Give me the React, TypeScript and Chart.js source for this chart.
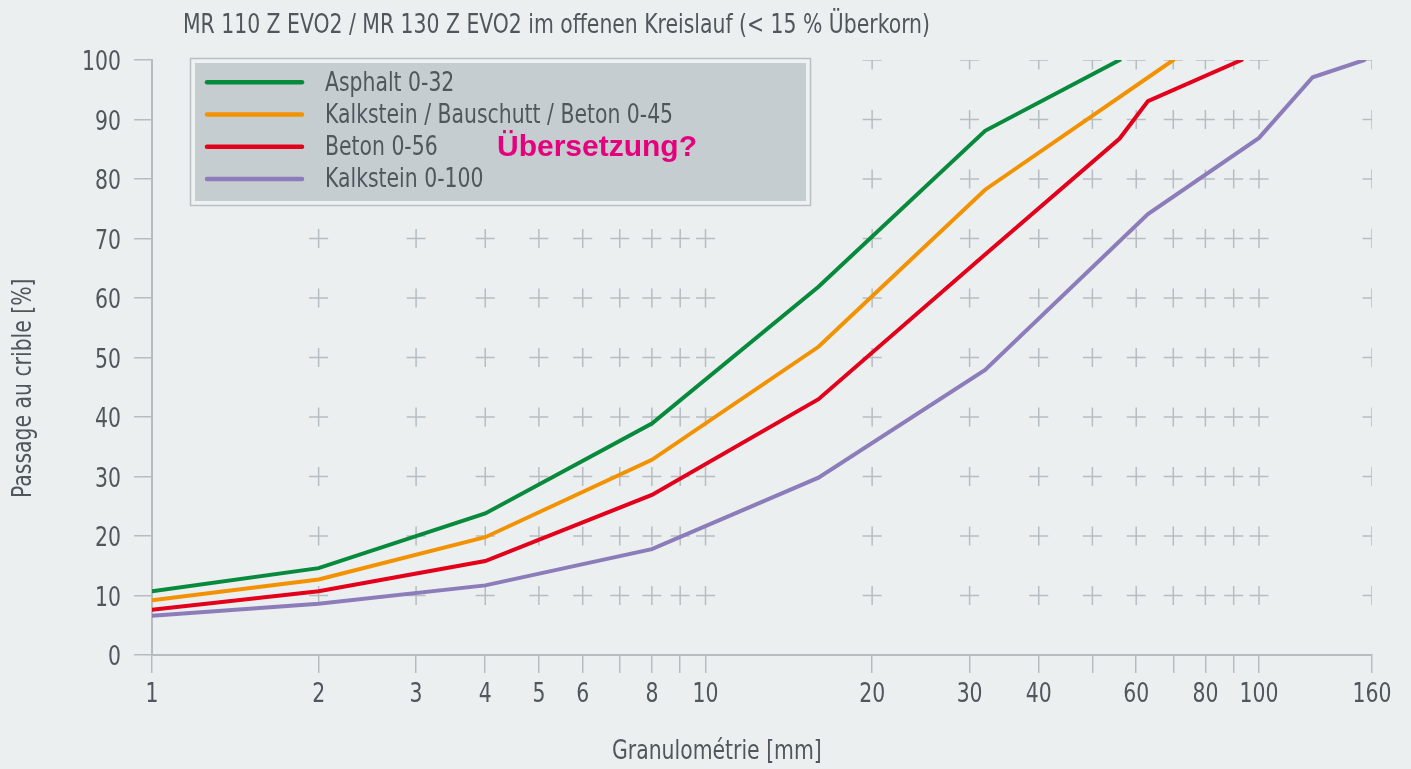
import React, { useEffect, useRef } from "react";
import { Chart, registerables } from "chart.js";

Chart.register(...registerables);

const titleText = "MR 110 Z EVO2 / MR 130 Z EVO2 im offenen Kreislauf (< 15 % Überkorn)";
const xTitle = "Granulométrie [mm]";
const yTitle = "Passage au crible [%]";
const noteText = "Übersetzung?";

const seriesNames = ["Asphalt 0-32", "Kalkstein / Bauschutt / Beton 0-45", "Beton 0-56", "Kalkstein 0-100"];
const seriesColors = ["#078a3c", "#f39200", "#e3001b", "#8c7cb9"];

const asphaltX = [1, 2, 4, 8, 16, 32, 56];
const asphaltY = [10.7, 14.6, 23.8, 38.9, 61.9, 88.1, 100];
const kalkBauX = [1, 2, 4, 8, 16, 32, 70];
const kalkBauY = [9.2, 12.7, 19.8, 32.8, 51.8, 78.2, 100];
const betonX = [1, 2, 4, 8, 16, 32, 56, 63, 93];
const betonY = [7.6, 10.7, 15.8, 26.9, 43.0, 67.3, 86.8, 93.1, 100];
const kalkX = [1, 2, 4, 8, 16, 32, 63, 100, 125, 155];
const kalkY = [6.6, 8.6, 11.7, 17.8, 29.8, 47.9, 74.1, 86.9, 97.1, 100];

const xTickValues = [1, 2, 3, 4, 5, 6, 7, 8, 9, 10, 20, 30, 40, 50, 60, 70, 80, 90, 100, 160];
const xLabelValues = [1, 2, 3, 4, 5, 6, 8, 10, 20, 30, 40, 60, 80, 100, 160];
const yTickValues = [0, 10, 20, 30, 40, 50, 60, 70, 80, 90, 100];
const crossX = [2, 3, 4, 5, 6, 7, 8, 9, 10, 20, 30, 40, 50, 60, 70, 80, 90, 100, 160];
const crossY = [10, 20, 30, 40, 50, 60, 70, 80, 90, 100];

const FONT = "'DejaVu Sans Condensed', 'Liberation Sans Narrow', sans-serif";
const FONT_SIZE = 26;
const TITLE_WIDTH = 747;
const BG = "#ebeff0";
const TEXT = "#50575c";
const GRID = "#b6bdc1";

const pairs = (xs: number[], ys: number[]) => xs.map((x, i) => ({ x, y: ys[i] }));

function txt(ctx: CanvasRenderingContext2D, s: string, x: number, y: number, align: CanvasTextAlign, sx: number, rot = 0) {
  ctx.save();
  ctx.translate(x, y);
  if (rot) ctx.rotate(rot);
  ctx.scale(sx, 1);
  ctx.textAlign = align;
  ctx.textBaseline = "alphabetic";
  ctx.fillText(s, 0, 0);
  ctx.restore();
}

const decorPlugin = {
  id: "decor",
  beforeDraw(chart: any) {
    const ctx = chart.ctx;
    ctx.save();
    ctx.fillStyle = BG;
    ctx.fillRect(0, 0, chart.width, chart.height);
    ctx.restore();
  },
  beforeDatasetsDraw(chart: any) {
    const { ctx, chartArea, scales } = chart;
    ctx.save();
    ctx.beginPath();
    ctx.rect(chartArea.left, chartArea.top, chartArea.right - chartArea.left, chartArea.bottom - chartArea.top);
    ctx.clip();
    ctx.strokeStyle = GRID;
    ctx.lineWidth = 1.5;
    const a = 9.5;
    for (const xv of crossX) {
      for (const yv of crossY) {
        const px = scales.x.getPixelForValue(xv);
        const py = scales.y.getPixelForValue(yv);
        ctx.beginPath();
        ctx.moveTo(px - a, py);
        ctx.lineTo(px + a, py);
        ctx.moveTo(px, py - a);
        ctx.lineTo(px, py + a);
        ctx.stroke();
      }
    }
    ctx.restore();
  },
  afterDraw(chart: any) {
    const ctx: CanvasRenderingContext2D = chart.ctx;
    const { scales } = chart;
    ctx.save();
    ctx.fillStyle = TEXT;
    ctx.font = `${FONT_SIZE}px ${FONT}`;
    const sx = Math.min(1, TITLE_WIDTH / ctx.measureText(titleText).width);

    // title and axis titles
    txt(ctx, titleText, 183, 33, "left", sx);
    txt(ctx, xTitle, 612, 759, "left", sx);
    txt(ctx, yTitle, 31, 498, "left", sx, -Math.PI / 2);

    // tick labels
    for (const v of xLabelValues) {
      txt(ctx, String(v), scales.x.getPixelForValue(v), 702, "center", sx);
    }
    for (const v of yTickValues) {
      txt(ctx, String(v), 121, scales.y.getPixelForValue(v) + 10, "right", sx);
    }

    // legend box
    ctx.fillStyle = "#eef1f1";
    ctx.fillRect(190, 58, 621, 147);
    ctx.strokeStyle = "#b9c0c4";
    ctx.lineWidth = 1.5;
    ctx.strokeRect(190.5, 58.5, 620, 147);
    ctx.fillStyle = "#c6cdd0";
    ctx.fillRect(195, 63, 611, 138);
    seriesNames.forEach((name, i) => {
      const y = 82.3 + i * 32.2;
      ctx.strokeStyle = seriesColors[i];
      ctx.lineWidth = 4.5;
      ctx.lineCap = "round";
      ctx.beginPath();
      ctx.moveTo(207, y);
      ctx.lineTo(302, y);
      ctx.stroke();
      ctx.fillStyle = TEXT;
      ctx.font = `${FONT_SIZE}px ${FONT}`;
      txt(ctx, name, 325, y + 8.5, "left", sx);
    });
    ctx.fillStyle = "#e5007d";
    ctx.font = `bold 30px 'Liberation Sans', 'DejaVu Sans', sans-serif`;
    txt(ctx, noteText, 497, 156, "left", 1);
    ctx.restore();
  },
};

export default function App() {
  const ref = useRef<HTMLCanvasElement | null>(null);
  useEffect(() => {
    document.body.style.margin = "0";
    document.body.style.background = BG;
    if (!ref.current) return;
    const xs = [asphaltX, kalkBauX, betonX, kalkX];
    const ys = [asphaltY, kalkBauY, betonY, kalkY];
    const chart = new Chart(ref.current, {
      type: "line",
      data: {
        datasets: seriesNames.map((name, i) => ({
          label: name,
          data: pairs(xs[i], ys[i]),
          borderColor: seriesColors[i],
          backgroundColor: seriesColors[i],
          borderWidth: 4,
          borderCapStyle: "round",
          borderJoinStyle: "miter",
          pointRadius: 0,
          tension: 0,
          fill: false,
        })),
      },
      options: {
        animation: false,
        responsive: false,
        devicePixelRatio: 1,
        layout: { padding: { top: 60, right: 39, left: 0, bottom: 0 } },
        plugins: {
          legend: { display: false },
          title: { display: false },
          tooltip: { enabled: false },
        },
        scales: {
          x: {
            type: "logarithmic",
            min: 1,
            max: 160,
            afterBuildTicks: (s: any) => {
              s.ticks = xTickValues.map((v) => ({ value: v }));
            },
            afterFit: (s: any) => {
              s.height = 114;
            },
            ticks: { display: false, autoSkip: false, maxRotation: 0, minRotation: 0 },
            grid: { drawOnChartArea: false, drawTicks: true, tickLength: 18, color: GRID, lineWidth: 1.5 },
            border: { display: true, color: GRID, width: 2 },
          },
          y: {
            type: "linear",
            min: 0,
            max: 100,
            afterBuildTicks: (s: any) => {
              s.ticks = yTickValues.map((v) => ({ value: v }));
            },
            afterFit: (s: any) => {
              s.width = 152;
            },
            ticks: { display: false },
            grid: { drawOnChartArea: false, drawTicks: true, tickLength: 18, color: GRID, lineWidth: 1.5 },
            border: { display: true, color: GRID, width: 2 },
          },
        },
      },
      plugins: [decorPlugin],
    } as any);
    return () => chart.destroy();
  }, []);
  return (
    <div style={{ width: 1411, height: 769 }}>
      <canvas ref={ref} width={1411} height={769} style={{ display: "block" }} />
    </div>
  );
}
